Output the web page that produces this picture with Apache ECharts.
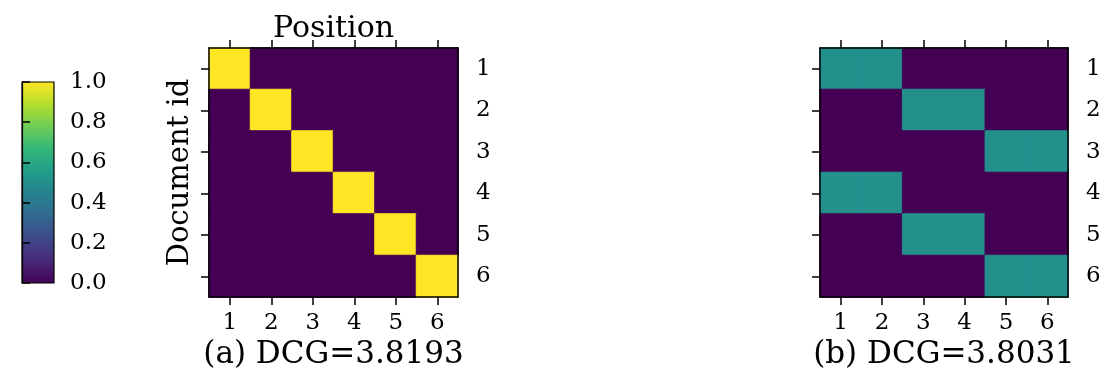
<!DOCTYPE html>
<html>
<head>
<meta charset="utf-8">
<script src="https://cdn.jsdelivr.net/npm/echarts@6/dist/echarts.min.js"></script>
<style>html,body{margin:0;padding:0;background:#fff;}#c{width:1114px;height:382px;}</style>
</head>
<body>
<div id="c"></div>
<script>
// ---- data ----
const positions = ['1', '2', '3', '4', '5', '6'];
const documents = ['1', '2', '3', '4', '5', '6'];
// matrix a: row = document, col = position
const matrixA = [
  [1, 0, 0, 0, 0, 0],
  [0, 1, 0, 0, 0, 0],
  [0, 0, 1, 0, 0, 0],
  [0, 0, 0, 1, 0, 0],
  [0, 0, 0, 0, 1, 0],
  [0, 0, 0, 0, 0, 1]
];
const matrixB = [
  [0.5, 0.5, 0, 0, 0, 0],
  [0, 0, 0.5, 0.5, 0, 0],
  [0, 0, 0, 0, 0.5, 0.5],
  [0.5, 0.5, 0, 0, 0, 0],
  [0, 0, 0.5, 0.5, 0, 0],
  [0, 0, 0, 0, 0.5, 0.5]
];
const colorbarTicks = [0, 0.2, 0.4, 0.6, 0.8, 1.0];
const captionA = '(a) DCG=3.8193';
const captionB = '(b) DCG=3.8031';
const xTitle = 'Position';
const yTitle = 'Document id';
const viridis = ['#440154', '#482878', '#3e4989', '#31688e', '#26828e', '#1f9e89', '#35b779', '#6ece58', '#b5de2b', '#fde725'];

function hexToRgb(h) { return [1, 3, 5].map(i => parseInt(h.substr(i, 2), 16)); }
function viridisAt(v) {
  const t = Math.max(0, Math.min(1, v)) * (viridis.length - 1);
  const i = Math.min(Math.floor(t), viridis.length - 2);
  const f = t - i;
  const a = hexToRgb(viridis[i]), b = hexToRgb(viridis[i + 1]);
  const c = a.map((x, k) => Math.round(x + (b[k] - x) * f));
  return 'rgb(' + c.join(',') + ')';
}
function toCells(m) {
  const out = [];
  m.forEach((row, r) => row.forEach((v, c) => {
    const col = viridisAt(v);
    out.push({ value: [c, r, v], itemStyle: { color: col, borderColor: col, borderWidth: 1 } });
  }));
  return out;
}

const FONT = 'DejaVu Serif';
const line = { show: true, lineStyle: { color: '#000', width: 1.5 } };
const tick = (show) => ({ show: show, alignWithLabel: true, length: 8, inside: false, lineStyle: { color: '#000', width: 1.5 } });
const lab = (show, margin) => ({ show: show, margin: margin, color: '#000', fontFamily: FONT, fontSize: 23 });

function axesFor(gi, caption, withTitles) {
  const xs = [
    { type: 'category', gridIndex: gi, data: positions, position: 'bottom', z: 10,
      axisLine: line, axisTick: tick(true), axisLabel: lab(true, 15), splitLine: { show: false },
      name: caption, nameLocation: 'middle', nameGap: 39,
      nameTextStyle: { color: '#000', fontFamily: FONT, fontSize: 31 } },
    { type: 'category', gridIndex: gi, data: positions, position: 'top', z: 10,
      axisLine: line, axisTick: tick(true), axisLabel: lab(false, 8), splitLine: { show: false },
      name: withTitles ? xTitle : '', nameLocation: 'middle', nameGap: 4,
      nameTextStyle: { color: '#000', fontFamily: FONT, fontSize: 30 } }
  ];
  const ys = [
    { type: 'category', gridIndex: gi, data: documents, inverse: true, position: 'left', z: 10,
      axisLine: line, axisTick: tick(true), axisLabel: lab(false, 8), splitLine: { show: false },
      name: withTitles ? yTitle : '', nameLocation: 'middle', nameGap: 14, nameRotate: 90,
      nameTextStyle: { color: '#000', fontFamily: FONT, fontSize: 29 } },
    { type: 'category', gridIndex: gi, data: documents, inverse: true, position: 'right', z: 10,
      axisLine: line, axisTick: { show: false }, axisLabel: lab(true, 18), splitLine: { show: false } }
  ];
  return { xs, ys };
}

const a = axesFor(0, captionA, true);
const b = axesFor(1, captionB, false);

const option = {
  backgroundColor: '#fff',
  animation: false,
  grid: [
    { left: 209, top: 48, width: 249, height: 249 },
    { left: 820, top: 48, width: 248, height: 249 },
    { left: 22, top: 82, width: 32, height: 201, show: true, borderColor: '#000', borderWidth: 1.2,
      backgroundColor: { type: 'linear', x: 0, y: 1, x2: 0, y2: 0,
        colorStops: viridis.map((c, i) => ({ offset: i / (viridis.length - 1), color: c })) } }
  ],
  xAxis: [...a.xs, ...b.xs,
    { type: 'value', gridIndex: 2, min: 0, max: 1, show: false }],
  yAxis: [...a.ys, ...b.ys,
    { type: 'value', gridIndex: 2, min: 0, max: 1, interval: 0.2, position: 'right', z: 10,
      axisLine: { show: true, lineStyle: { color: '#000', width: 1.2 } }, splitLine: { show: false },
      axisTick: { show: true, inside: false, length: 8, lineStyle: { color: '#000', width: 1.5 } },
      axisLabel: { show: true, margin: 16, color: '#000', fontFamily: FONT, fontSize: 23,
        formatter: v => colorbarTicks.includes(+(+v).toFixed(1)) ? (+v).toFixed(1) : '' } }],
  series: [
    { type: 'heatmap', xAxisIndex: 0, yAxisIndex: 0, data: toCells(matrixA), emphasis: { disabled: true } },
    { type: 'heatmap', xAxisIndex: 2, yAxisIndex: 2, data: toCells(matrixB), emphasis: { disabled: true } }
  ]
};

const chart = echarts.init(document.getElementById('c'), null, { renderer: 'canvas' });
chart.setOption(option);
</script>
</body>
</html>
